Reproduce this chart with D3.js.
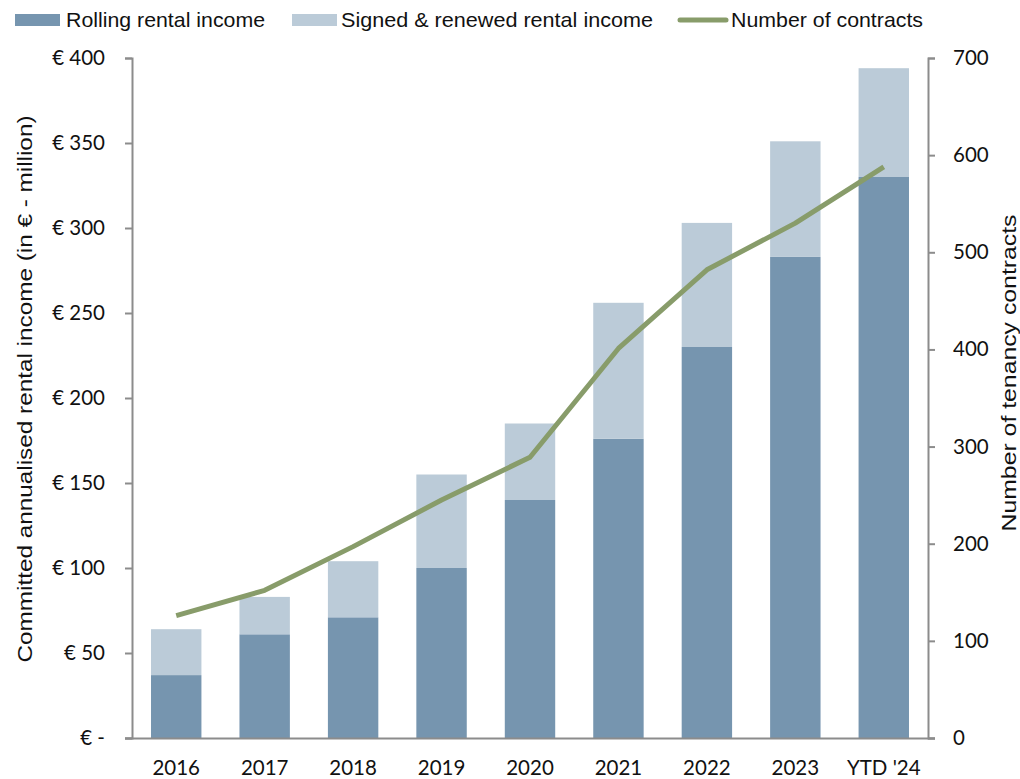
<!DOCTYPE html>
<html>
<head>
<meta charset="utf-8">
<script src="https://cdn.jsdelivr.net/npm/d3@7"></script>
<style>
  html, body { margin: 0; padding: 0; background: #fff; }
  svg { display: block; }
  .tick text { font-family: Lato, "Open Sans", sans-serif; font-size: 20.5px; fill: #111; }
  .narrow { font-family: "Liberation Sans Narrow", "Arial Narrow", "Liberation Sans", sans-serif; }
</style>
</head>
<body>
<svg id="chart" width="1020" height="779"></svg>
<script>
// Categories and series
const years = ["2016", "2017", "2018", "2019", "2020", "2021", "2022", "2023", "YTD '24"];
const rollingIncome = [37, 61, 71, 100, 140, 176, 230, 283, 330];          // € million
const signedRenewedIncome = [27, 22, 33, 55, 45, 80, 73, 68, 64];          // € million, stacked on top
const contracts = [126, 152, 197, 245, 289, 401, 482, 530, 588];           // number of tenancy contracts
const leftTicks = [0, 50, 100, 150, 200, 250, 300, 350, 400];
const rightTicks = [0, 100, 200, 300, 400, 500, 600, 700];

const colors = { rolling: "#7695AF", signed: "#BBCBD8", line: "#889C6A", axis: "#8C8C8C" };

const svg = d3.select("#chart");
const plot = { left: 132, right: 928, top: 58, bottom: 738 };

const x = d3.scaleBand().domain(years).range([plot.left, plot.right]).paddingInner(0.43).paddingOuter(0.215);
const yL = d3.scaleLinear().domain([0, 400]).range([plot.bottom, plot.top]);
const yR = d3.scaleLinear().domain([0, 700]).range([plot.bottom, plot.top]);

const rows = years.map((yr, i) => ({ yr, rolling: rollingIncome[i], signed: signedRenewedIncome[i], n: contracts[i] }));

// Stacked bars
const stack = d3.stack().keys(["rolling", "signed"])(rows);
svg.append("g").selectAll("g").data(stack).join("g")
  .attr("fill", d => colors[d.key])
  .selectAll("rect").data(d => d).join("rect")
  .attr("x", d => x(d.data.yr))
  .attr("width", x.bandwidth())
  .attr("y", d => yL(d[1]))
  .attr("height", d => yL(d[0]) - yL(d[1]));

// Contracts line
const line = d3.line().x(d => x(d.yr) + x.bandwidth() / 2).y(d => yR(d.n));
svg.append("path").datum(rows)
  .attr("fill", "none").attr("stroke", colors.line).attr("stroke-width", 5)
  .attr("stroke-linejoin", "round")
  .attr("d", line);

// Axes
const fmtEuro = v => v === 0 ? "€ -" : "€ " + v;
const leftAxis = svg.append("g").attr("transform", `translate(${plot.left},0)`)
  .call(d3.axisLeft(yL).tickValues(leftTicks).tickFormat(fmtEuro).tickSize(7).tickPadding(20));
const rightAxis = svg.append("g").attr("transform", `translate(${plot.right},0)`)
  .call(d3.axisRight(yR).tickValues(rightTicks).tickFormat(d3.format("d")).tickSize(7).tickPadding(18));
const bottomAxis = svg.append("g").attr("transform", `translate(0,${plot.bottom})`)
  .call(d3.axisBottom(x).tickSize(0).tickPadding(22));

[leftAxis, rightAxis, bottomAxis].forEach(g => {
  g.select(".domain").attr("stroke", colors.axis).attr("stroke-width", 2);
  g.selectAll(".tick line").attr("stroke", colors.axis).attr("stroke-width", 2);
});
bottomAxis.select(".domain").attr("d", `M${plot.left - 7},0.5H${plot.right + 7}`);

// Axis titles
svg.append("text").attr("class", "narrow")
  .attr("transform", "translate(32,389) rotate(-90)")
  .attr("text-anchor", "middle").attr("font-size", 21).attr("fill", "#111")
  .attr("textLength", 547).attr("lengthAdjust", "spacingAndGlyphs")
  .text("Committed annualised rental income (in € - million)");
svg.append("text").attr("class", "narrow")
  .attr("transform", "translate(1016,373) rotate(-90)")
  .attr("text-anchor", "middle").attr("font-size", 21).attr("fill", "#111")
  .attr("textLength", 317).attr("lengthAdjust", "spacingAndGlyphs")
  .text("Number of tenancy contracts");

// Legend
const legendItems = [
  { label: "Rolling rental income", type: "rect", color: colors.rolling, x: 15, tx: 66, len: 199 },
  { label: "Signed & renewed rental income", type: "rect", color: colors.signed, x: 292, tx: 341, len: 312 },
  { label: "Number of contracts", type: "line", color: colors.line, x: 680, tx: 731, len: 192 }
];
const lg = svg.append("g");
legendItems.forEach(it => {
  if (it.type === "rect") {
    lg.append("rect").attr("x", it.x).attr("y", 14).attr("width", 45).attr("height", 12).attr("fill", it.color);
  } else {
    lg.append("line").attr("x1", it.x).attr("x2", it.x + 46).attr("y1", 20).attr("y2", 20)
      .attr("stroke", it.color).attr("stroke-width", 5).attr("stroke-linecap", "round");
  }
  lg.append("text").attr("class", "narrow").attr("x", it.tx).attr("y", 27)
    .attr("font-size", 21).attr("fill", "#111")
    .attr("textLength", it.len).attr("lengthAdjust", "spacingAndGlyphs")
    .text(it.label);
});
</script>
</body>
</html>
